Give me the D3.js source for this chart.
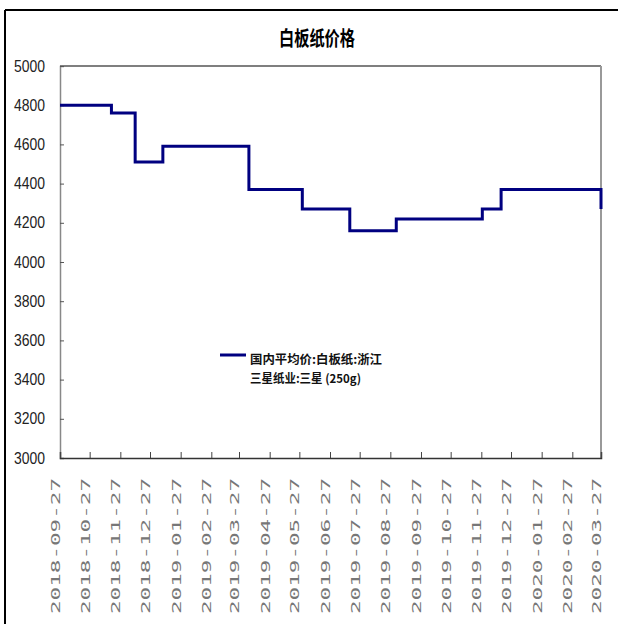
<!DOCTYPE html>
<html>
<head>
<meta charset="utf-8">
<script src="https://cdn.jsdelivr.net/npm/d3@7"></script>
<style>
  html, body { margin: 0; padding: 0; background: #fff; }
  svg { display: block; }
</style>
</head>
<body>
<svg id="chart" width="618" height="624"></svg>
<script>
// ---- data ----
const title = "白板纸价格";
const seriesName1 = "国内平均价:白板纸:浙江";
const seriesName2 = "三星纸业:三星 (250g)";
const changeDates = ["2018-09-27","2018-11-18","2018-12-12","2019-01-09","2019-04-06","2019-05-30","2019-07-17","2019-09-02","2019-11-28","2019-12-17","2020-03-27"];
const changeValues = [4800, 4760, 4510, 4590, 4370, 4270, 4160, 4220, 4270, 4370, 4270];
const xTickLabels = ["2018-09-27","2018-10-27","2018-11-27","2018-12-27","2019-01-27","2019-02-27","2019-03-27","2019-04-27","2019-05-27","2019-06-27","2019-07-27","2019-08-27","2019-09-27","2019-10-27","2019-11-27","2019-12-27","2020-01-27","2020-02-27","2020-03-27"];
const yTicks = [3000,3200,3400,3600,3800,4000,4200,4400,4600,4800,5000];

// ---- layout ----
const svg = d3.select("#chart");
const L = 60, R = 601, T = 66, B = 458;
const parse = d3.timeParse("%Y-%m-%d");
const data = changeDates.map((d, i) => ({ date: parse(d), value: changeValues[i] }));

const x = d3.scaleTime().domain([parse(xTickLabels[0]), parse(xTickLabels[xTickLabels.length - 1])]).range([L, R]);
const y = d3.scaleLinear().domain([3000, 5000]).range([B, T]);

// outer frame
svg.append("line").attr("x1", 5).attr("y1", 10).attr("x2", 5).attr("y2", 624).attr("stroke", "#000").attr("stroke-width", 2);
svg.append("line").attr("x1", 5).attr("y1", 10).attr("x2", 618).attr("y2", 10).attr("stroke", "#000").attr("stroke-width", 2);

// title
svg.append("text").attr("x", 317).attr("y", 46).attr("text-anchor", "middle")
  .attr("font-family", "Noto Sans CJK SC").attr("font-size", 20).attr("font-weight", "bold")
  .attr("textLength", 76).attr("lengthAdjust", "spacingAndGlyphs")
  .attr("fill", "#000").text(title);

// plot frame
svg.append("line").attr("x1", L).attr("y1", T).attr("x2", R).attr("y2", T).attr("stroke", "#555").attr("stroke-width", 1.5);
svg.append("line").attr("x1", R).attr("y1", T).attr("x2", R).attr("y2", B).attr("stroke", "#999").attr("stroke-width", 2);

// y axis
const yAxis = d3.axisLeft(y).tickValues(yTicks).tickSize(-4).tickPadding(15).tickFormat(d3.format("d"));
const gy = svg.append("g").attr("transform", `translate(${L},0)`).call(yAxis);
gy.select(".domain").attr("stroke", "#888").attr("stroke-width", 1.5);
gy.selectAll(".tick line").attr("stroke", "#555");
gy.selectAll(".tick text").attr("font-family", "Liberation Sans, Arial, sans-serif")
  .attr("font-size", 16).attr("fill", "#222")
  .attr("textLength", 31).attr("lengthAdjust", "spacingAndGlyphs");

// x axis
const xAxis = d3.axisBottom(x).tickValues(xTickLabels.map(parse)).tickSize(-6).tickFormat(() => "");
const gx = svg.append("g").attr("transform", `translate(0,${B})`).call(xAxis);
gx.select(".domain").attr("stroke", "#333").attr("stroke-width", 1.5);
gx.selectAll(".tick line").attr("stroke", "#444");

svg.append("g").selectAll("text").data(xTickLabels).join("text")
  .attr("transform", d => `translate(${x(parse(d))},478) rotate(-90)`)
  .attr("text-anchor", "end")
  .attr("font-family", "DejaVu Sans Mono, monospace").attr("font-size", 13)
  .attr("textLength", 136).attr("lengthAdjust", "spacingAndGlyphs")
  .attr("fill", "#777").text(d => d);

// series
const line = d3.line().x(d => x(d.date)).y(d => y(d.value)).curve(d3.curveStepAfter);
svg.append("path").datum(data).attr("d", line).attr("fill", "none")
  .attr("stroke", "#000080").attr("stroke-width", 3);

// legend
svg.append("line").attr("x1", 220).attr("x2", 246).attr("y1", 355).attr("y2", 355)
  .attr("stroke", "#000080").attr("stroke-width", 3);
svg.append("text").attr("x", 250).attr("y", 364)
  .attr("font-family", "Noto Sans CJK SC").attr("font-size", 12).attr("font-weight", "bold")
  .attr("textLength", 132).attr("lengthAdjust", "spacingAndGlyphs")
  .attr("fill", "#111").text(seriesName1);
svg.append("text").attr("x", 250).attr("y", 383)
  .attr("font-family", "Noto Sans CJK SC").attr("font-size", 12).attr("font-weight", "bold")
  .attr("textLength", 111).attr("lengthAdjust", "spacingAndGlyphs")
  .attr("fill", "#111").text(seriesName2);
</script>
</body>
</html>
